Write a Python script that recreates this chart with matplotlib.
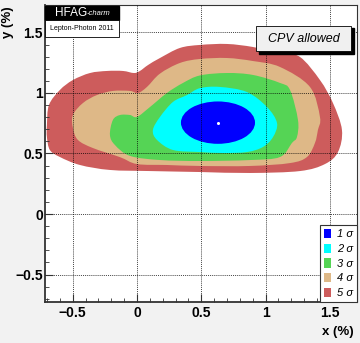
import numpy as np
import matplotlib
matplotlib.use('Agg')
import matplotlib.pyplot as plt
from matplotlib.path import Path
from matplotlib.patches import PathPatch, Ellipse, Rectangle, Patch
from matplotlib.font_manager import FontProperties

# ---------------- data ----------------
levels = ['1 σ', '2 σ', '3 σ', '4 σ', '5 σ']
colors = ['#0000ff', '#00ffff', '#55d455', '#deb887', '#cd5c5c']

red_x = [-0.677, -0.700, -0.700, -0.684, -0.599, -0.498, -0.365, -0.233, -0.109, -0.023,
         0.023, 0.086, 0.179, 0.334, 0.490, 0.700, 0.902, 1.112, 1.267, 1.423,
         1.524, 1.594, 1.563, 1.462, 1.267, 0.879, 0.490, 0.101, -0.210, -0.443, -0.599]
red_y = [0.529, 0.636, 0.736, 0.901, 1.025, 1.107, 1.165, 1.182, 1.182, 1.165,
         1.182, 1.231, 1.289, 1.372, 1.397, 1.405, 1.380, 1.331, 1.298, 1.107,
         0.917, 0.694, 0.512, 0.413, 0.355, 0.339, 0.347, 0.355, 0.364, 0.405, 0.471]

tan_x = [-0.459, -0.498, -0.498, -0.420, -0.311, -0.187, -0.054, 0.008, 0.078, 0.179,
         0.334, 0.490, 0.700, 0.902, 1.112, 1.345, 1.423, 1.407, 1.384, 1.322,
         1.190, 0.879, 0.490, 0.233, 0.000, -0.132, -0.342]
tan_y = [0.612, 0.711, 0.818, 0.917, 0.983, 1.017, 1.017, 1.000, 1.050, 1.160,
         1.248, 1.281, 1.289, 1.264, 1.215, 1.050, 0.801, 0.694, 0.587, 0.471,
         0.421, 0.397, 0.397, 0.405, 0.413, 0.470, 0.545]

green_x = [-0.210, -0.187, -0.132, -0.054, 0.000, 0.101, 0.233, 0.358, 0.490, 0.700,
           0.902, 1.112, 1.190, 1.252, 1.244, 1.205, 1.112, 0.879, 0.490, 0.179,
           -0.054, -0.171]
green_y = [0.653, 0.777, 0.818, 0.818, 0.802, 0.884, 1.000, 1.083, 1.145, 1.165,
           1.149, 1.083, 1.025, 0.777, 0.636, 0.587, 0.471, 0.446, 0.438, 0.446,
           0.480, 0.570]

cyan_x = [0.124, 0.179, 0.280, 0.389, 0.490, 0.645, 0.855, 1.011, 1.089, 1.058,
          0.980, 0.855, 0.669, 0.490, 0.280, 0.156]
cyan_y = [0.694, 0.802, 0.926, 0.983, 1.040, 1.050, 1.008, 0.884, 0.752, 0.636,
          0.554, 0.512, 0.504, 0.512, 0.529, 0.612]

blue_center = (0.63, 0.755)
blue_width = 0.576
blue_height = 0.35

best_x = [0.628]
best_y = [0.75]

x_ticks = [-0.5, 0, 0.5, 1, 1.5]
y_ticks = [-0.5, 0, 0.5, 1, 1.5]
x_tick_labels = ['\u22120.5', '0', '0.5', '1', '1.5']
y_tick_labels = ['\u22120.5', '0', '0.5', '1', '1.5']


def smooth_closed_path(xs, ys):
    P = np.column_stack([xs, ys])
    n = len(P)
    verts = [P[0]]
    codes = [Path.MOVETO]
    for i in range(n):
        p0 = P[(i - 1) % n]
        p1 = P[i]
        p2 = P[(i + 1) % n]
        p3 = P[(i + 2) % n]
        c1 = p1 + (p2 - p0) / 6.0
        c2 = p2 - (p3 - p1) / 6.0
        verts += [c1, c2, p2]
        codes += [Path.CURVE4] * 3
    verts.append(P[0])
    codes.append(Path.CLOSEPOLY)
    return Path(verts, codes)


fig = plt.figure(figsize=(3.6, 3.43), dpi=100, facecolor='#f2f2f2')
ax = fig.add_axes([45 / 360, 1 - 302 / 343, 312 / 360, 297 / 343])
ax.set_facecolor('white')

for xs, ys, c, z in [(red_x, red_y, colors[4], 1.0),
                     (tan_x, tan_y, colors[3], 1.1),
                     (green_x, green_y, colors[2], 1.2),
                     (cyan_x, cyan_y, colors[1], 1.3)]:
    ax.add_patch(PathPatch(smooth_closed_path(xs, ys), facecolor=c,
                           edgecolor='none', zorder=z))
ax.add_patch(Ellipse(blue_center, blue_width, blue_height, facecolor=colors[0],
                     edgecolor='none', zorder=1.4))
ax.plot(best_x, best_y, 'o', color='white', ms=1.2, zorder=1.5)

ax.set_xlim(-0.715, 1.711)
ax.set_ylim(-0.727, 1.727)

tick_font = FontProperties(family='Liberation Sans', weight='bold', size=10)
ax.set_xticks(x_ticks)
ax.set_xticklabels(x_tick_labels, fontproperties=tick_font)
ax.set_yticks(y_ticks)
ax.set_yticklabels(y_tick_labels, fontproperties=tick_font)
ax.xaxis.set_minor_locator(matplotlib.ticker.MultipleLocator(0.1))
ax.yaxis.set_minor_locator(matplotlib.ticker.MultipleLocator(0.1))
ax.tick_params(which='major', direction='in', length=6, width=0.8, color='#333333',
               top=False, right=False, pad=3)
ax.tick_params(axis='y', which='major', pad=1.5)
ax.tick_params(which='minor', direction='in', length=3, width=0.6, color='#333333',
               top=False, right=False)
ax.grid(True, which='major', linestyle=(0, (1.5, 1.5)), color='black', linewidth=0.5)
ax.set_axisbelow(False)
for s in ax.spines.values():
    s.set_linewidth(0.8)
    s.set_color('#333333')
ax.spines['left'].set_linewidth(1.3)
ax.spines['bottom'].set_linewidth(1.3)

handles = [Patch(facecolor=c, edgecolor='none') for c in colors]
leg = ax.legend(handles, levels, loc='lower right', bbox_to_anchor=(1.0, 0.0),
                borderaxespad=0.0, frameon=True, fancybox=False, edgecolor='#333333',
                framealpha=1.0,
                prop=FontProperties(family='Liberation Sans', style='italic', size=8),
                handlelength=0.65, handleheight=0.9, handletextpad=0.5,
                labelspacing=0.38, borderpad=0.35)
leg.get_frame().set_linewidth(0.8)

# HFAG logo
fig.add_artist(Rectangle((45 / 360, 1 - 20 / 343), 74 / 360, 14 / 343,
                         transform=fig.transFigure, facecolor='black', edgecolor='black'))
fig.add_artist(Rectangle((45 / 360, 1 - 37 / 343), 74 / 360, 17 / 343,
                         transform=fig.transFigure, facecolor='white', edgecolor='black',
                         linewidth=0.6))
fig.text(55 / 360, 1 - 13 / 343, 'HFAG', color='white', family='Liberation Sans',
         size=8.5, ha='left', va='center')
fig.text(87 / 360, 1 - 13.5 / 343, '-charm', color='white', family='Liberation Sans',
         style='italic', size=5.5, ha='left', va='center')
fig.text(82 / 360, 1 - 28.5 / 343, 'Lepton-Photon 2011', color='black',
         family='Liberation Sans', size=5, ha='center', va='center')

# CPV allowed box
fig.add_artist(Rectangle((258.5 / 360, 1 - 53.5 / 343), 95 / 360, 25 / 343,
                         transform=fig.transFigure, facecolor='black', edgecolor='black'))
fig.add_artist(Rectangle((256 / 360, 1 - 51 / 343), 95 / 360, 25 / 343,
                         transform=fig.transFigure, facecolor='#f0f0f0', edgecolor='black',
                         linewidth=0.6))
fig.text(303.5 / 360, 1 - 38.5 / 343, 'CPV allowed', family='Liberation Sans',
         style='italic', size=9, ha='center', va='center')

# axis titles
fig.text(8 / 360, 1 - 22 / 343, 'y (%)', rotation=90, family='Liberation Sans',
         weight='bold', size=9.5, ha='center', va='center')
fig.text(338 / 360, 1 - 332 / 343, 'x (%)', family='Liberation Sans',
         weight='bold', size=9.5, ha='center', va='center')

fig.savefig('out.png', dpi=100, facecolor=fig.get_facecolor())
